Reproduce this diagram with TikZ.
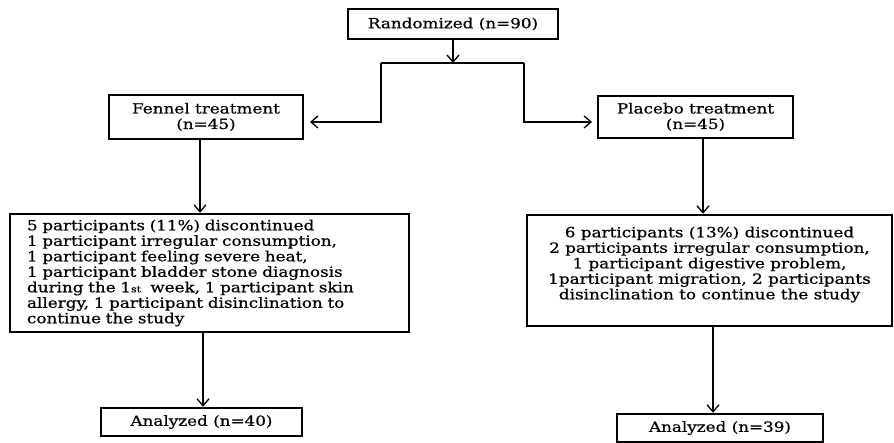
\documentclass[tikz,border=0pt]{standalone}
\usepackage{fontspec}
\setmainfont[FakeStretch=1.2, FakeBold=0.6]{DejaVu Serif}
\usetikzlibrary{arrows.meta}

\tikzset{
  box/.style={draw, line width=2.5pt, inner sep=0pt, align=center},
  arr/.style={line width=1.3pt, -{Straight Barb[length=7pt,width=12pt,line width=1.3pt]}},
  link/.style={line width=1.3pt}
}

\begin{document}
\begin{tikzpicture}[x=1pt, y=-1pt, font=\fontsize{14}{15.5}\selectfont]
        \useasboundingbox (0,0) rectangle (894,443);

        % Randomized
        \node[box, minimum width=210pt, minimum height=30pt] (rand) at (453,24) {Randomized (n=90)};

        % Fennel treatment
        \node[box, minimum width=194pt, minimum height=44pt] (fennel) at (206,117) {Fennel treatment\\(n=45)};

        % Placebo treatment
        \node[box, minimum width=195pt, minimum height=42pt] (placebo) at (695.5,117) {Placebo treatment\\(n=45)};

        % Fennel discontinued
        \node[draw, line width=2.5pt, align=left, text width=365pt, inner xsep=17pt, inner ysep=0pt,
              minimum height=118pt] (fdrop) at (209.5,273) {5 participants (11\%) discontinued\\
              1 participant irregular consumption,\\
              1 participant feeling severe heat,\\
              1 participant bladder stone diagnosis\\
              during the 1{\small st}\ \ week, 1 participant skin\\
              allergy, 1 participant disinclination to\\
              continue the study};

        % Placebo discontinued
        \node[box, minimum width=365pt, minimum height=111pt] (pdrop) at (709.5,270.5) {};
        \node[align=center, inner sep=0pt] (pdroptext) at ([yshift=6pt]pdrop.center) {6 participants (13\%) discontinued\\
              2 participants irregular consumption,\\
              1 participant digestive problem,\\
              1participant migration, 2 participants\\
              disinclination to continue the study};

        % Analyzed
        \node[box, minimum width=201pt, minimum height=28pt] (fan) at (201.5,422) {Analyzed (n=40)};
        \node[box, minimum width=206pt, minimum height=28pt] (pan) at (720,428) {Analyzed (n=39)};

        % Split
        \coordinate (split) at (453,63);
        \coordinate (lbend) at (381,63);
        \coordinate (rbend) at (524,63);
        \coordinate (ltip) at (310,122);
        \coordinate (rtip) at (592,122);
        \draw[arr] (rand.south) -- (split);
        \draw[link] (lbend) -- (rbend);
        \draw[arr] (lbend) |- (ltip);
        \draw[arr] (rbend) |- (rtip);

        % Arms
        \draw[arr] ([xshift=-6pt]fennel.south) -- ([xshift=-6pt]fennel.south |- fdrop.north);
        \draw[arr] ([xshift=-6.5pt]fdrop.south) -- ([xshift=-6.5pt]fdrop.south |- fan.north);
        \draw[arr] ([xshift=7.5pt]placebo.south) -- ([xshift=7.5pt]placebo.south |- pdrop.north);
        \draw[arr] ([xshift=3.5pt]pdrop.south) -- ([xshift=3.5pt]pdrop.south |- pan.north);
    \end{tikzpicture}
\end{document}
